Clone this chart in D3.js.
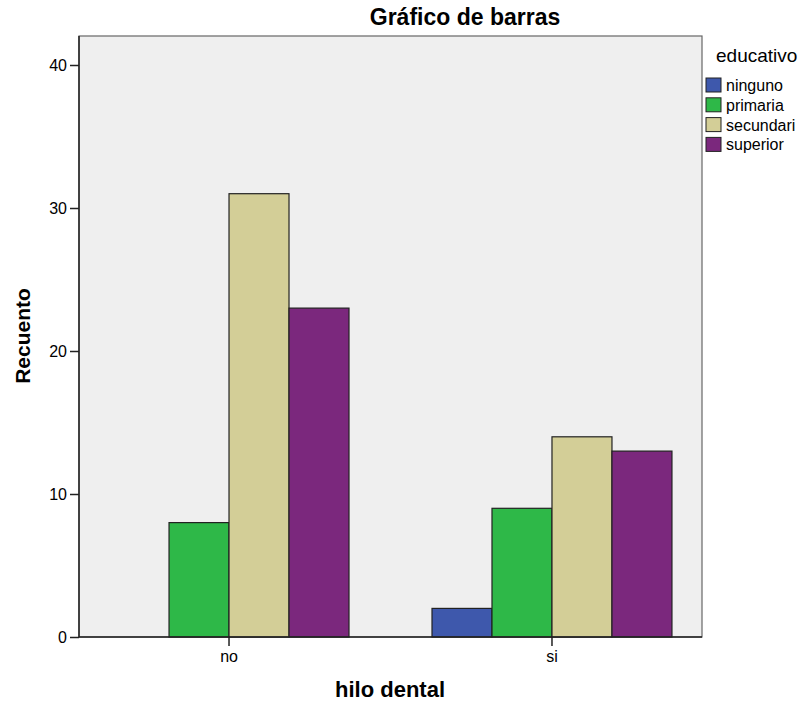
<!DOCTYPE html>
<html>
<head>
<meta charset="utf-8">
<script src="https://cdn.jsdelivr.net/npm/d3@7"></script>
<style>
  body { margin: 0; background: #fff; }
  text { font-family: "Liberation Sans", Arial, sans-serif; fill: #000; }
</style>
</head>
<body>
<div class="barchart"></div>
<script>
// data
const groups = ["no", "si"];
const levels = ["ninguno", "primaria", "secundari", "superior"];
const countsNo = [0, 8, 31, 23];
const countsSi = [2, 9, 14, 13];
const yTicks = [0, 10, 20, 30, 40];
const colors = ["#3e58ac", "#2eb848", "#d3ce97", "#7b287d"];

const W = 803, H = 704;
const plot = {left: 79, right: 702, top: 36, bottom: 637};

const svg = d3.select(".barchart")
  .append("svg")
    .attr("width", W)
    .attr("height", H);

// y scale: 40 sits at 65px
const y = d3.scaleLinear()
  .domain([0, 40])
  .range([plot.bottom, 65]);

const x = d3.scaleBand()
  .domain(groups)
  .range([plot.left, plot.right])
  .paddingInner(0.257)
  .paddingOuter(0.093);

const xs = d3.scaleBand()
  .domain(levels)
  .range([0, x.bandwidth()]);

// plot background
svg.append("rect")
  .attr("x", plot.left)
  .attr("y", plot.top)
  .attr("width", plot.right - plot.left)
  .attr("height", plot.bottom - plot.top)
  .attr("fill", "#efefef")
  .attr("stroke", "#666")
  .attr("stroke-width", 1.2);

// bars
const rows = groups.map((g, i) => ({g: g, vals: i == 0 ? countsNo : countsSi}));
svg.append("g")
  .selectAll("g")
  .data(rows)
  .enter()
  .append("g")
    .attr("transform", d => "translate(" + x(d.g) + ",0)")
  .selectAll("rect")
  .data(d => d.vals.map((v, j) => ({k: levels[j], v: v, c: colors[j]})).filter(d => d.v > 0))
  .enter()
  .append("rect")
    .attr("x", d => xs(d.k))
    .attr("y", d => y(d.v))
    .attr("width", xs.bandwidth())
    .attr("height", d => y(0) - y(d.v))
    .attr("fill", d => d.c)
    .attr("stroke", "#222")
    .attr("stroke-width", 1.2);

// axes
const yAxis = svg.append("g")
  .attr("transform", "translate(" + plot.left + ",0)")
  .call(d3.axisLeft(y).tickValues(yTicks).tickSize(9).tickPadding(3));
yAxis.select(".domain").attr("d", "M0," + plot.top + "V" + plot.bottom).attr("stroke", "#222").attr("stroke-width", 1.5);
yAxis.selectAll(".tick line").attr("stroke", "#222").attr("stroke-width", 1.5);
yAxis.selectAll(".tick text").style("font-size", "16px").attr("fill", "#111");

const xAxis = svg.append("g")
  .attr("transform", "translate(0," + plot.bottom + ")")
  .call(d3.axisBottom(x).tickSize(9).tickPadding(5));
xAxis.select(".domain").attr("d", "M" + plot.left + ",0H" + plot.right).attr("stroke", "#222").attr("stroke-width", 1.5);
xAxis.selectAll(".tick line").attr("stroke", "#222").attr("stroke-width", 1.5);
xAxis.selectAll(".tick text").style("font-size", "16px").attr("fill", "#111");

// titles
svg.append("text")
  .attr("x", 465)
  .attr("y", 25)
  .attr("text-anchor", "middle")
  .style("font-size", "23px")
  .style("font-weight", "bold")
  .text("Gráfico de barras");

svg.append("text")
  .attr("x", 390)
  .attr("y", 697)
  .attr("text-anchor", "middle")
  .style("font-size", "22px")
  .style("font-weight", "bold")
  .text("hilo dental");

svg.append("text")
  .attr("transform", "translate(30,336) rotate(-90)")
  .attr("text-anchor", "middle")
  .style("font-size", "21px")
  .style("font-weight", "bold")
  .text("Recuento");

// legend
svg.append("text")
  .attr("x", 716)
  .attr("y", 62)
  .style("font-size", "19px")
  .attr("fill", "#222")
  .text("educativo");

const leg = svg.append("g")
  .selectAll("g")
  .data(levels)
  .enter()
  .append("g")
    .attr("transform", (d, i) => "translate(706," + (78 + i * 19.8) + ")");
leg.append("rect")
  .attr("width", 15)
  .attr("height", 14)
  .attr("fill", (d, i) => colors[i])
  .attr("stroke", "#222");
leg.append("text")
  .attr("x", 20)
  .attr("y", 13)
  .style("font-size", "16px")
  .text(d => d);
</script>
</body>
</html>
